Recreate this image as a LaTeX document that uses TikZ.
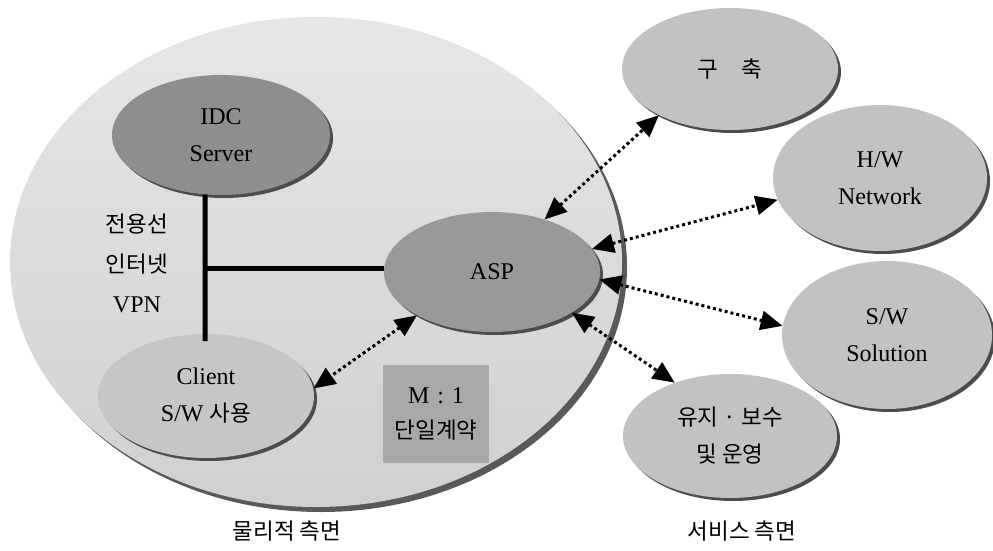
\documentclass[tikz,border=0pt]{standalone}
\usepackage{fontspec}
\setmainfont{Liberation Serif}
\newfontfamily\krfont{Noto Sans CJK KR}
\usetikzlibrary{shapes.geometric,arrows.meta,shadows}

\definecolor{phystop}{HTML}{E6E6E6}
\definecolor{physbottom}{HTML}{D0D0D0}
\definecolor{srvfill}{HTML}{8E8E8E}
\definecolor{aspfill}{HTML}{999999}
\definecolor{clifill}{HTML}{C6C6C6}
\definecolor{svcfill}{HTML}{C2C2C2}
\definecolor{boxfill}{HTML}{A8A8A8}

% Korean text
\newcommand\ko[1]{{\krfont\fontsize{22.5}{37}\selectfont #1}}

\begin{document}
\begin{tikzpicture}[x=1pt,y=-1pt,
  every node/.style={font=\fontsize{24}{37}\selectfont, inner sep=0pt},
  blob/.style={ellipse, align=center,
    drop shadow={shadow xshift=3pt, shadow yshift=-3pt, fill=black!70, opacity=1}},
  bigshadow/.style={drop shadow={shadow xshift=5pt, shadow yshift=-5pt, fill=black!65, opacity=1}},
  link/.style={line width=5pt},
  dotarrow/.style={line width=3pt, dash pattern=on 3pt off 3pt,
    {Triangle[length=22pt,width=19pt]}-{Triangle[length=22pt,width=19pt]}}
]
\useasboundingbox (0,0) rectangle (993,551);

% physical side
\node[ellipse, top color=phystop, bottom color=physbottom, bigshadow, minimum width=612pt, minimum height=490pt] (phys) at (316,262) {};
\node[blob, fill=clifill, minimum width=216pt, minimum height=124pt] (client) at (206,396) {Client\\S/W \ko{사용}};
\node[blob, fill=srvfill, minimum width=218pt, minimum height=120pt] (idc) at (221,135) {IDC\\Server};
\node[blob, fill=aspfill, minimum width=216pt, minimum height=120pt] (asp) at (492,272) {ASP};
\node[rectangle, fill=boxfill, minimum width=106pt, minimum height=98pt, align=center] (contract) at (436,414) {M\,\,:\,\,1\\[-2pt]\ko{단일계약}};
\node[align=center, font=\fontsize{24}{40}\selectfont] (media) at (137,263) {\ko{전용선}\\\ko{인터넷}\\VPN};

% service side
\node[blob, fill=svcfill, minimum width=216pt, minimum height=122pt] (build) at (730,69) {\ko{구\hspace{24pt}축}};
\node[blob, fill=svcfill, minimum width=214pt, minimum height=146pt] (hw) at (880,178) {H/W\\Network};
\node[blob, fill=svcfill, minimum width=210pt, minimum height=148pt] (sw) at (887,335) {S/W\\Solution};
\node[blob, fill=svcfill, minimum width=214pt, minimum height=124pt] (maint) at (730,436) {\ko{유지 · 보수}\\\ko{및 운영}};

% captions
\node (capphys) at (287,531) {\ko{물리적 측면}};
\node (capsvc) at (742,531) {\ko{서비스 측면}};

% network links
\coordinate (junction) at (205,268);
\coordinate (linkend) at (205,341);
\draw[link] (idc.255) -- (linkend);
\draw[link] (junction) -- (asp.west |- junction);

% service relations
\draw[dotarrow] (asp.45) -- (build.213);
\draw[dotarrow] (asp.13) -- (hw.192);
\draw[dotarrow] (asp.-4) -- (sw.175);
\draw[dotarrow] (asp.-27) -- (maint.136);
\draw[dotarrow] (asp.210) -- (client.4);
\end{tikzpicture}
\end{document}
